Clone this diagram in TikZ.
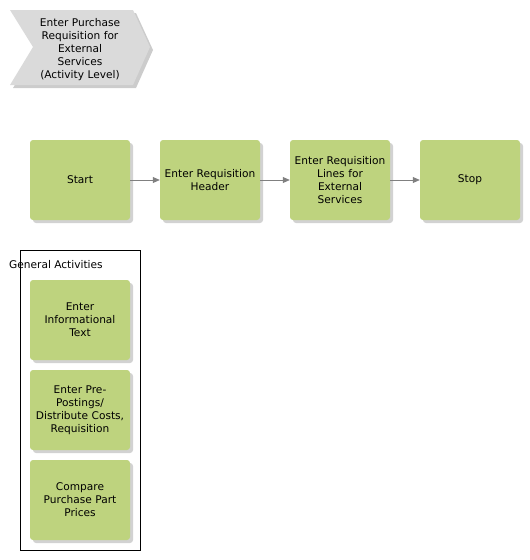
\documentclass[tikz,border=0pt]{standalone}
\usepackage{fontspec}
\setmainfont{DejaVu Sans}
\usetikzlibrary{shadows,arrows.meta}
\definecolor{actgreen}{RGB}{190,211,126}
\definecolor{chevgray}{RGB}{218,218,218}
\definecolor{arrowgray}{RGB}{128,128,128}
\begin{document}
\begin{tikzpicture}[x=1pt,y=-1pt,
  font=\fontsize{10.6}{13}\selectfont,
  act/.style={fill=actgreen, rounded corners=3pt, minimum width=100pt, minimum height=80pt,
    text width=100pt, align=center, inner sep=0pt,
    drop shadow={shadow xshift=3pt, shadow yshift=-3pt, fill=black!22, opacity=0.8}},
  flow/.style={draw=arrowgray, line width=0.8pt, -{Triangle[length=7pt,width=6pt]}}]
\useasboundingbox (0,0) rectangle (530,560);
% chevron
\fill[black!20] (13,13) -- (136,13) -- (153,50) -- (136,88) -- (13,88) -- (36,50) -- cycle;
\fill[chevgray] (10,10) -- (133,10) -- (150,47) -- (133,85) -- (10,85) -- (33,47) -- cycle;
\node[align=center, text width=100pt, inner sep=0pt] (title) at (80,50)
  {Enter Purchase\\Requisition for\\External\\Services\\(Activity Level)};
% main flow
\node[act] (start) at (80,180) {Start};
\node[act] (header) at (210,180) {Enter Requisition\\Header};
\node[act] (lines) at (340,180) {Enter Requisition\\Lines for\\External\\Services};
\node[act] (stop) at (470,180) {Stop};
\draw[flow] (start) -- (header);
\draw[flow] (header) -- (lines);
\draw[flow] (lines) -- (stop);
% general activities
\node[draw=black, line width=0.8pt, minimum width=120pt, minimum height=300pt, inner sep=0pt] (group) at (80,400) {};
\node[anchor=west, inner sep=0pt] (grouplabel) at (9,265) {General Activities};
\node[act] (info) at (80,320) {Enter\\Informational\\Text};
\node[act] (prepost) at (80,410) {Enter Pre-\\Postings/\\Distribute Costs,\\Requisition};
\node[act] (compare) at (80,500) {Compare\\Purchase Part\\Prices};
\end{tikzpicture}
\end{document}
